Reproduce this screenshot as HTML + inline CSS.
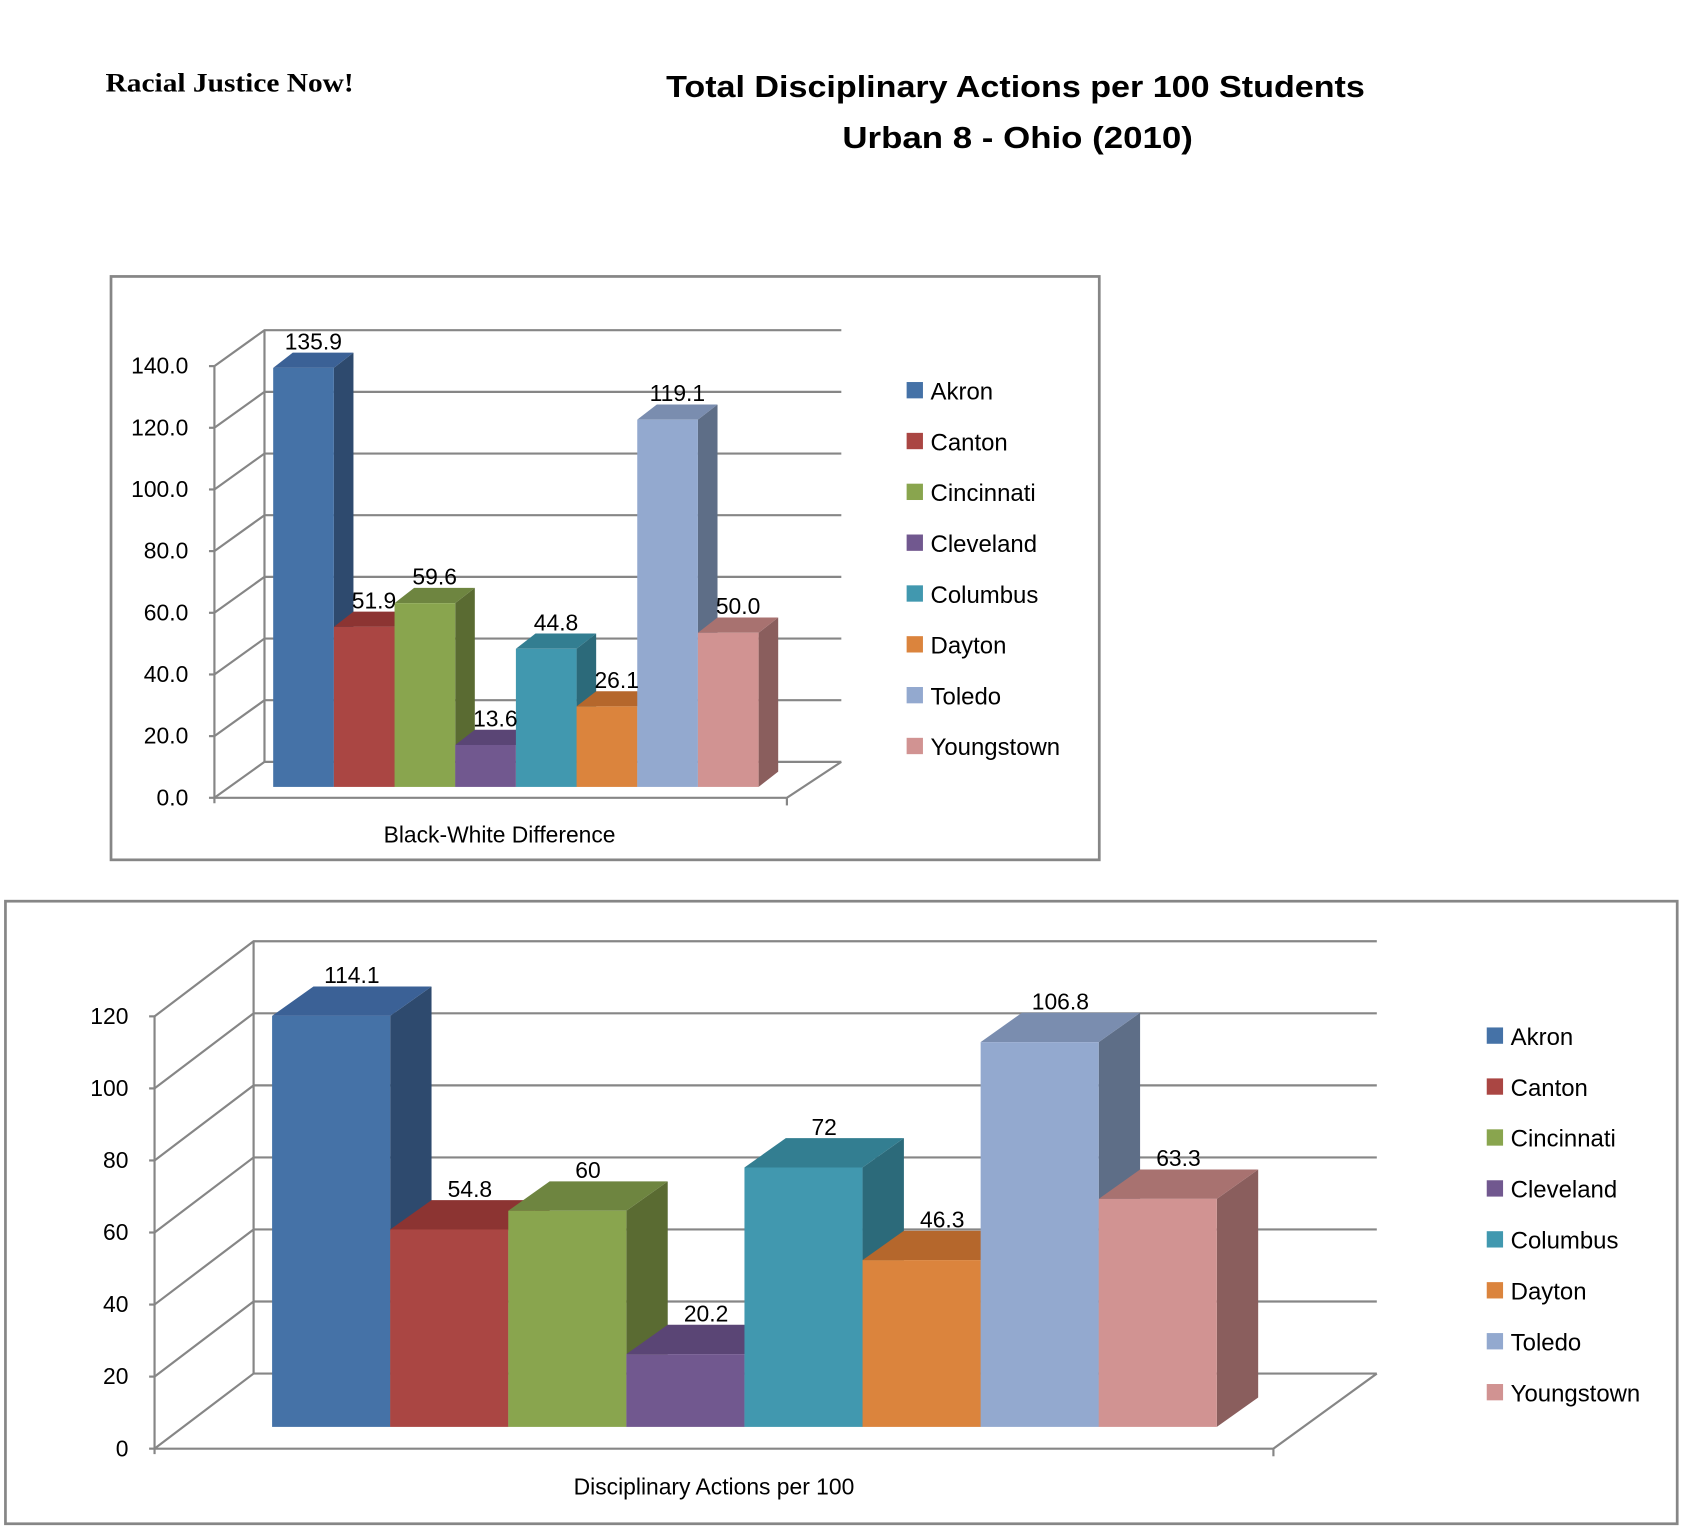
<!DOCTYPE html>
<html><head><meta charset="utf-8">
<style>
html,body{margin:0;padding:0;background:#fff;}
svg{display:block;}
text{font-family:"Liberation Sans",sans-serif;}
</style></head>
<body>
<svg id="svg" width="1687" height="1539" viewBox="0 0 1550 1414" preserveAspectRatio="none" xmlns="http://www.w3.org/2000/svg">
<text x="97" y="84" font-weight="bold" font-size="24" style="font-family:'Liberation Serif',serif" textLength="228" lengthAdjust="spacingAndGlyphs">Racial Justice Now!</text>
<text x="933" y="89" text-anchor="middle" font-weight="bold" font-size="28" textLength="642" lengthAdjust="spacingAndGlyphs">Total  Disciplinary Actions per 100 Students</text>
<text x="935" y="136" text-anchor="middle" font-weight="bold" font-size="28" textLength="322" lengthAdjust="spacingAndGlyphs">Urban 8 -  Ohio (2010)</text>
<rect x="102" y="254" width="908" height="536" fill="#fff" stroke="#868686" stroke-width="2.5"/>
<rect x="5" y="828" width="1536" height="572" fill="#fff" stroke="#868686" stroke-width="2.5"/>
<g id="c1"></g>
<g id="c2"></g>
</svg>
<script>
const cities = ["Akron","Canton","Cincinnati","Cleveland","Columbus","Dayton","Toledo","Youngstown"];
const chart1Values = [135.9,51.9,59.6,13.6,44.8,26.1,119.1,50.0];
const chart1Labels = ["135.9","51.9","59.6","13.6","44.8","26.1","119.1","50.0"];
const chart1Ticks = [0,20,40,60,80,100,120,140];
const chart1TickLabels = ["0.0","20.0","40.0","60.0","80.0","100.0","120.0","140.0"];
const chart2Values = [114.1,54.8,60,20.2,72,46.3,106.8,63.3];
const chart2Labels = ["114.1","54.8","60","20.2","72","46.3","106.8","63.3"];
const chart2Ticks = [0,20,40,60,80,100,120];
const chart2TickLabels = ["0","20","40","60","80","100","120"];

const front=["#4572A7","#AA4643","#89A54E","#71588F","#4198AF","#DB843D","#93A9CF","#D19392"];
const side =["#2E4A6E","#7A2F2D","#5A6B32","#4E3C63","#2C6A7A","#A8622A","#5E6E87","#8A5E5D"];
const top_ =["#3B6196","#8C3432","#6E8540","#5A4575","#337E91","#B5672C","#7A8DAF","#A87270"];
const NS="http://www.w3.org/2000/svg";
function mk(g,tag,attrs){const e=document.createElementNS(NS,tag);for(const k in attrs)e.setAttribute(k,attrs[k]);g.appendChild(e);return e;}

function draw(gid,cfg,values,labels,ticks,tickLabels,prefix){
  const g=document.getElementById(gid);
  const yF=v=>cfg.y0-v*cfg.k;
  const yB=v=>cfg.y0-cfg.dy-v*cfg.k;
  const ymax=ticks[ticks.length-1];
  const l=mk(g,'line',{x1:cfg.ax+cfg.dx,y1:yB(0),x2:cfg.ax+cfg.dx,y2:yB(ymax),stroke:'#868686','stroke-width':2});
  
  ticks.forEach((t,i)=>{
    const p=mk(g,'polyline',{points:`${cfg.ax},${yF(t)} ${cfg.ax+cfg.dx},${yB(t)} ${cfg.backR},${yB(t)}`,fill:'none',stroke:'#868686','stroke-width':2});
    
    const tk=mk(g,'line',{x1:cfg.ax-5,y1:yF(t),x2:cfg.ax,y2:yF(t),stroke:'#868686','stroke-width':2});
    
    const tx=mk(g,'text',{x:cfg.ax-cfg.labOff,y:yF(t)+7,'text-anchor':'end','font-size':cfg.fs,fill:'#000'});
    tx.textContent=tickLabels[i];
    
  });
  const f=mk(g,'polyline',{points:`${cfg.ax},${yF(0)} ${cfg.frontR},${yF(0)} ${cfg.backR},${yB(0)}`,fill:'none',stroke:'#868686','stroke-width':2});
  
  const ya=mk(g,'line',{x1:cfg.ax,y1:yF(ymax),x2:cfg.ax,y2:yF(0)+5,stroke:'#868686','stroke-width':2});
  
  const xr=mk(g,'line',{x1:cfg.frontR,y1:yF(0),x2:cfg.frontR,y2:yF(0)+7,stroke:'#868686','stroke-width':2});
  
  const n=values.length,bw=(cfg.bx1-cfg.bx0)/n;
  values.forEach((v,i)=>{
    const x=cfg.bx0+i*bw,yb=cfg.by0,yt=cfg.by0-v*cfg.k,d=cfg.bdx,e=cfg.bdy;
    const bg=mk(g,'g',{});
    
    mk(bg,'polygon',{points:`${x+bw},${yt} ${x+bw+d},${yt-e} ${x+bw+d},${yb-e} ${x+bw},${yb}`,fill:side[i]});
    mk(bg,'polygon',{points:`${x},${yt} ${x+d},${yt-e} ${x+bw+d},${yt-e} ${x+bw},${yt}`,fill:top_[i]});
    mk(bg,'rect',{x:x,y:yt,width:bw,height:yb-yt,fill:front[i]});
  });
  values.forEach((v,i)=>{
    const x=cfg.bx0+i*bw,yt=cfg.by0-v*cfg.k;
    const t=mk(g,'text',{x:x+bw/2+cfg.bdx/2,y:yt-cfg.bdy-3,'text-anchor':'middle','font-size':cfg.fs,fill:'#000'});
    t.textContent=labels[i];
    
  });
  const xt=mk(g,'text',{x:cfg.xtx,y:cfg.xty,'text-anchor':'middle','font-size':cfg.fs,fill:'#000'});
  xt.textContent=cfg.xtitle;
  cities.forEach((c,i)=>{
    const y=cfg.ly+i*cfg.lstep;
    const r=mk(g,'rect',{x:cfg.lx,y:y-8,width:15,height:15,fill:front[i]});
    
    const t=mk(g,'text',{x:cfg.lx+22,y:y+8,'font-size':cfg.lfs,fill:'#000'});
    t.textContent=c;
  });
}
draw('c1',{ax:197,y0:733,k:2.833,dx:46,dy:33,backR:773,frontR:723,bx0:251,bx1:697,by0:723,bdx:18,bdy:14,labOff:24,fs:21,lfs:22,xtitle:'Black-White Difference',xtx:459,xty:774,lx:833,ly:359,lstep:46.7},
  chart1Values,chart1Labels,chart1Ticks,chart1TickLabels,'chart1');
draw('c2',{ax:142,y0:1331,k:3.31,dx:91,dy:69,backR:1265,frontR:1170,bx0:250,bx1:1118,by0:1311,bdx:38,bdy:27,labOff:24,fs:21,lfs:22,xtitle:'Disciplinary Actions per 100',xtx:656,xty:1373,lx:1366,ly:952,lstep:46.8},
  chart2Values,chart2Labels,chart2Ticks,chart2TickLabels,'chart2');
</script>
</body></html>
